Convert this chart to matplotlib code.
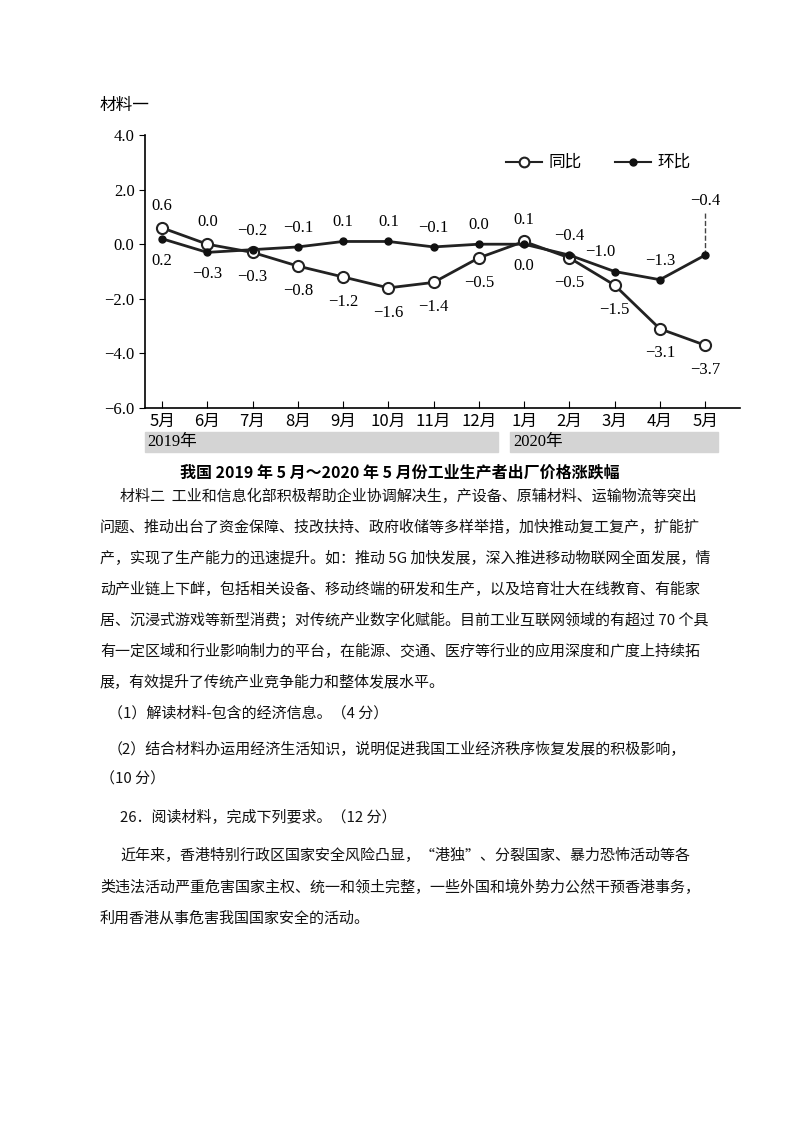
import matplotlib.pyplot as plt
from matplotlib.patches import Rectangle

plt.rcParams['font.family'] = ['Noto Sans CJK SC', 'DejaVu Sans']

months = ['5月', '6月', '7月', '8月', '9月', '10月', '11月', '12月', '1月', '2月', '3月', '4月', '5月']
tongbi = [0.6, 0.0, -0.3, -0.8, -1.2, -1.6, -1.4, -0.5, 0.1, -0.5, -1.5, -3.1, -3.7]
huanbi = [0.2, -0.3, -0.2, -0.1, 0.1, 0.1, -0.1, 0.0, 0.0, -0.4, -1.0, -1.3, -0.4]
# 标签位置：1 = 上方，-1 = 下方
tb_pos = [1, 1, -1, -1, -1, -1, -1, -1, 1, -1, -1, -1, -1]
hb_pos = [-1, -1, 1, 1, 1, 1, 1, 1, -1, 1, 1, 1, 1]

W, H = 800, 1132
fig = plt.figure(figsize=(W / 100, H / 100), dpi=100)
ax = fig.add_axes([145 / W, 1 - 408 / H, 595 / W, 273 / H])
x = list(range(len(months)))
ax.plot(x, tongbi, color='#222', lw=2, marker='o', ms=8, mfc='white', mec='#222', mew=1.5, zorder=3)
ax.plot(x, huanbi, color='#222', lw=2, marker='o', ms=5, mfc='#111', mec='#111', zorder=3)

num_font = dict(family=['Liberation Serif'], fontsize=12, ha='center')
for i, v in enumerate(tongbi):
    dy = 10 if tb_pos[i] > 0 else -12
    ax.annotate(f'{v:.1f}'.replace('-', '−'), (i, v), xytext=(0, dy), textcoords='offset points',
                va='bottom' if dy > 0 else 'top', **num_font)
for i, v in enumerate(huanbi):
    if i == len(huanbi) - 1:
        ax.plot([i, i], [v, 1.2], color='#444', lw=1, ls='--')
        ax.text(i, 1.3, f'{v:.1f}'.replace('-', '−'), va='bottom', **num_font)
        continue
    dy = 8 if hb_pos[i] > 0 else -10
    dx = -10 if i == 10 else 0
    ax.annotate(f'{v:.1f}'.replace('-', '−'), (i, v), xytext=(dx, dy), textcoords='offset points',
                va='bottom' if dy > 0 else 'top', **num_font)

ax.set_xlim(-0.376, 12.77)
ax.set_ylim(-6, 4)
ax.set_yticks([-6, -4, -2, 0, 2, 4])
ax.set_yticklabels(['−6.0', '−4.0', '−2.0', '0.0', '2.0', '4.0'], family=['Liberation Serif'], fontsize=12)
ax.set_xticks(x)
ax.set_xticklabels(months, fontsize=12)
ax.tick_params(axis='x', direction='in', length=5)
ax.tick_params(axis='y', direction='out', length=4)
for s in ['top', 'right']:
    ax.spines[s].set_visible(False)
for s in ['left', 'bottom']:
    ax.spines[s].set_linewidth(1.2)

# 图例
ax.plot([7.6, 8.4], [3.0, 3.0], color='#222', lw=1.5)
ax.plot([8.0], [3.0], marker='o', ms=7, mfc='white', mec='#222', mew=1.5)
ax.text(8.55, 3.0, '同比', va='center', fontsize=12)
ax.plot([10.0, 10.8], [3.0, 3.0], color='#222', lw=1.5)
ax.plot([10.4], [3.0], marker='o', ms=5, color='#111')
ax.text(10.95, 3.0, '环比', va='center', fontsize=12)

fig.text(100 / W, 1 - 105 / H, '材料一', fontsize=12, va='center')
fig.patches.append(Rectangle((145 / W, 1 - 452 / H), 353 / W, 20 / H, transform=fig.transFigure, color='#d4d4d4'))
fig.patches.append(Rectangle((510 / W, 1 - 452 / H), 208 / W, 20 / H, transform=fig.transFigure, color='#d4d4d4'))
fig.text(147 / W, 1 - 442 / H, '2019年', family=['Liberation Serif', 'Noto Sans CJK SC'], fontsize=12, va='center')
fig.text(513 / W, 1 - 442 / H, '2020年', family=['Liberation Serif', 'Noto Sans CJK SC'], fontsize=12, va='center')
fig.text(0.5, 1 - 473 / H, '我国 2019 年 5 月～2020 年 5 月份工业生产者出厂价格涨跌幅',
         ha='center', va='center', fontsize=11.5, fontweight='bold')

lines = [
    (120, 496, '材料二  工业和信息化部积极帮助企业协调解决生，产设备、原辅材料、运输物流等突出'),
    (100, 527, '问题、推动出台了资金保障、技改扶持、政府收储等多样举措，加快推动复工复产，扩能扩'),
    (100, 558, '产，实现了生产能力的迅速提升。如：推动 5G 加快发展，深入推进移动物联网全面发展，情'),
    (100, 589, '动产业链上下衅，包括相关设备、移动终端的研发和生产，以及培育壮大在线教育、有能家'),
    (100, 620, '居、沉浸式游戏等新型消费；对传统产业数字化赋能。目前工业互联网领域的有超过 70 个具'),
    (100, 651, '有一定区域和行业影响制力的平台，在能源、交通、医疗等行业的应用深度和广度上持续拓'),
    (100, 682, '展，有效提升了传统产业竞争能力和整体发展水平。'),
    (108, 713, '（1）解读材料-包含的经济信息。（4 分）'),
    (108, 750, '（2）结合材料办运用经济生活知识，说明促进我国工业经济秩序恢复发展的积极影响，'),
    (100, 779, '（10 分）'),
    (120, 818, '26．阅读材料，完成下列要求。（12 分）'),
    (120, 856, '近年来，香港特别行政区国家安全风险凸显，“港独”、分裂国家、暴力恐怖活动等各'),
    (100, 887, '类违法活动严重危害国家主权、统一和领土完整，一些外国和境外势力公然干预香港事务，'),
    (100, 918, '利用香港从事危害我国国家安全的活动。'),
]
for px, py, t in lines:
    fig.text(px / W, 1 - py / H, t, fontsize=10.8, va='center', color='#111')

fig.savefig('out.png', dpi=100)
